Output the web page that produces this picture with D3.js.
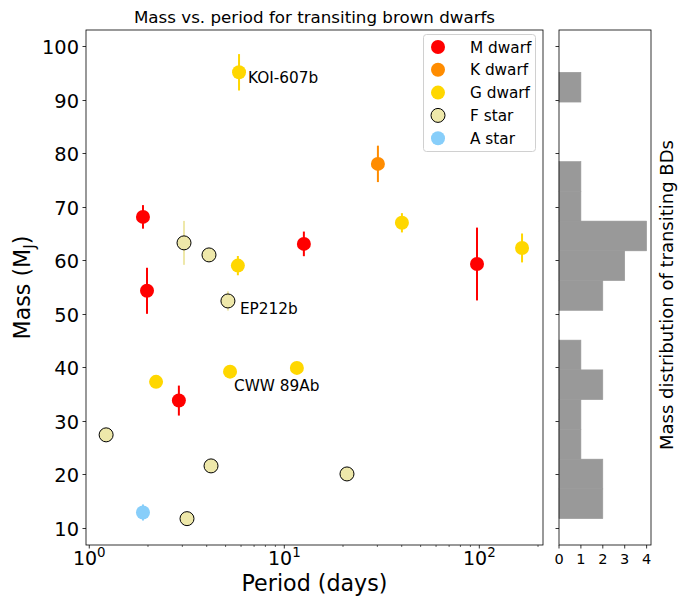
<!DOCTYPE html>
<html><head><meta charset="utf-8">
<script src="https://cdn.jsdelivr.net/npm/d3@7"></script>
<style>body{margin:0;background:#fff} text{font-family:"DejaVu Sans",sans-serif;fill:#000}</style>
</head><body><svg id="c" width="684" height="596"></svg>
<script>
const categories = ["M dwarf","K dwarf","G dwarf","F star","A star"];
const categoryColors = ["#ff0000","#ff8c00","#ffd700","#eee8aa","#87cefa"];
const categoryEdge = [null,null,null,"#000",null];
const period  = [1.885,1.977,2.88,12.6,97.3, 30.2, 5.86,5.78,40.1,165.6,2.2,5.27,11.6, 3.06,4.11,5.14,1.22,4.21,20.96,3.17, 1.885];
const mass    = [68.1,54.3,33.8,63.06,59.3, 78.0, 95.1,59.0,67.0,62.3,37.3,39.2,39.9, 63.25,61.0,52.4,27.4,21.6,20.1,11.75, 12.9];
const massErr = [2.2,4.3,2.8,2.3,6.8, 3.4, 3.4,1.8,1.8,2.7,0.5,0.5,0.5, 4.1,0.5,1.8,0.5,0.5,0.5,0.5, 1.5];
const hostType= [0,0,0,0,0, 1, 2,2,2,2,2,2,2, 3,3,3,3,3,3,3, 4];
const labelNames = ["KOI-607b","EP212b","CWW 89Ab"];
const labelIndex = [6,15,11];
const xTickExponents = [0,1,2];
const yTicks = [10,20,30,40,50,60,70,80,90,100];
const histTicks = [0,1,2,3,4];
const nBins = 15;

const svg = d3.select("#c");
const M = {l:86, r:543, t:30, b:545};
const H = {l:559, r:651};
const x = d3.scaleLog().domain([0.962, 212.1]).range([M.l, M.r]);
const y = d3.scaleLinear().domain([6.83, 103.0]).range([M.b, M.t]);
const hx = d3.scaleLinear().domain([0, 4.2]).range([H.l, H.r]);

// title
svg.append("text").attr("x",(M.l+M.r)/2).attr("y",23).attr("text-anchor","middle")
  .style("font-size","16.7px").text("Mass vs. period for transiting brown dwarfs");

// main y axis ticks
const gy = svg.append("g");
yTicks.forEach(v=>{
  const yy = Math.round(y(v))+0.5;
  gy.append("line").attr("x1",M.l-3.5).attr("x2",M.l).attr("y1",yy).attr("y2",yy).attr("stroke","#000").attr("stroke-width",0.8);
  gy.append("text").attr("x",M.l-7).attr("y",yy+7).attr("text-anchor","end").style("font-size","19.4px").text(v);
  // hist ticks
  gy.append("line").attr("x1",H.l-3.5).attr("x2",H.l).attr("y1",yy).attr("y2",yy).attr("stroke","#000").attr("stroke-width",0.8);
});

// x axis ticks (log)
const gx = svg.append("g");
xTickExponents.forEach(e=>{
  const v = Math.pow(10,e);
  const xx = x(v);
  gx.append("line").attr("x1",xx).attr("x2",xx).attr("y1",M.b).attr("y2",M.b+3.5).attr("stroke","#000").attr("stroke-width",0.8);
  const t = gx.append("text").attr("x",xx).attr("y",M.b+20).attr("text-anchor","middle").style("font-size","19px");
  t.append("tspan").text("10");
  t.append("tspan").attr("dy",-8).style("font-size","13.4px").text(e);
});
xTickExponents.forEach(e=>{
  for(let k=2;k<=9;k++){
    const v = k*Math.pow(10,e);
    if(v>x.domain()[1]) continue;
    const xx = x(v);
    gx.append("line").attr("x1",xx).attr("x2",xx).attr("y1",M.b).attr("y2",M.b+2).attr("stroke","#000").attr("stroke-width",0.6);
  }
});

// axis labels
svg.append("text").attr("x",(M.l+M.r)/2).attr("y",591).attr("text-anchor","middle").style("font-size","22.2px").text("Period (days)");
const yl = svg.append("text").attr("transform",`translate(30,${(M.t+M.b)/2}) rotate(-90)`).attr("text-anchor","middle").style("font-size","22.2px");
yl.append("tspan").text("Mass (M");
yl.append("tspan").attr("dy",5).style("font-size","15.5px").text("J");
yl.append("tspan").attr("dy",-5).text(")");

// error bars + points
const pts = d3.range(period.length);
svg.append("g").selectAll("line").data(pts).join("line")
  .attr("x1",i=>x(period[i])).attr("x2",i=>x(period[i]))
  .attr("y1",i=>y(mass[i]-massErr[i])).attr("y2",i=>y(mass[i]+massErr[i]))
  .attr("stroke",i=>categoryColors[hostType[i]]).attr("stroke-width",2);
svg.append("g").selectAll("circle").data(pts).join("circle")
  .attr("cx",i=>x(period[i])).attr("cy",i=>y(mass[i])).attr("r",7)
  .attr("fill",i=>categoryColors[hostType[i]])
  .attr("stroke",i=>categoryEdge[hostType[i]]||"none").attr("stroke-width",1);

// annotations
const labelOffsets = [[9,11],[12,13],[4,19]];
labelNames.forEach((n,k)=>{
  const i = labelIndex[k];
  svg.append("text").attr("x",x(period[i])+labelOffsets[k][0]).attr("y",y(mass[i])+labelOffsets[k][1])
    .style("font-size","15.3px").text(n);
});

// legend
const lg = svg.append("g");
lg.append("rect").attr("x",423.5).attr("y",34.5).attr("width",112).attr("height",117).attr("rx",3)
  .attr("fill","#fff").attr("fill-opacity",0.8).attr("stroke","#d0d0d0");
categories.forEach((c,k)=>{
  const yy = 47 + k*22.8;
  lg.append("circle").attr("cx",438).attr("cy",yy).attr("r",7).attr("fill",categoryColors[k])
    .attr("stroke",categoryEdge[k]||"none").attr("stroke-width",1);
  lg.append("text").attr("x",470).attr("y",yy+5.5).style("font-size","15.3px").text(c);
});

// main frame
svg.append("rect").attr("x",M.l).attr("y",M.t).attr("width",M.r-M.l).attr("height",M.b-M.t)
  .attr("fill","none").attr("stroke","#000").attr("stroke-width",0.8);

// histogram
const mMin = d3.min(mass), mMax = d3.max(mass), w = (mMax-mMin)/nBins;
const counts = new Array(nBins).fill(0);
mass.forEach(m=>{ counts[Math.min(nBins-1, Math.floor((m-mMin)/w))]++; });
svg.append("g").selectAll("rect").data(counts).join("rect")
  .attr("x",hx(0)).attr("width",d=>hx(d)-hx(0))
  .attr("y",(d,i)=>y(mMin+(i+1)*w)).attr("height",(d,i)=>y(mMin+i*w)-y(mMin+(i+1)*w))
  .attr("fill","#999").attr("stroke",d=>d>0?"#999":"none").attr("stroke-width",0.6);
svg.append("rect").attr("x",H.l).attr("y",M.t).attr("width",H.r-H.l).attr("height",M.b-M.t)
  .attr("fill","none").attr("stroke","#000").attr("stroke-width",0.8);
histTicks.forEach(v=>{
  const xx = hx(v);
  svg.append("line").attr("x1",xx).attr("x2",xx).attr("y1",M.b).attr("y2",M.b+3.5).attr("stroke","#000").attr("stroke-width",0.8);
  svg.append("text").attr("x",xx).attr("y",M.b+19).attr("text-anchor","middle").style("font-size","14.5px").text(v);
});
svg.append("text").attr("transform",`translate(673,295) rotate(-90)`).attr("text-anchor","middle")
  .style("font-size","18px").text("Mass distribution of transiting BDs");
</script></body></html>
